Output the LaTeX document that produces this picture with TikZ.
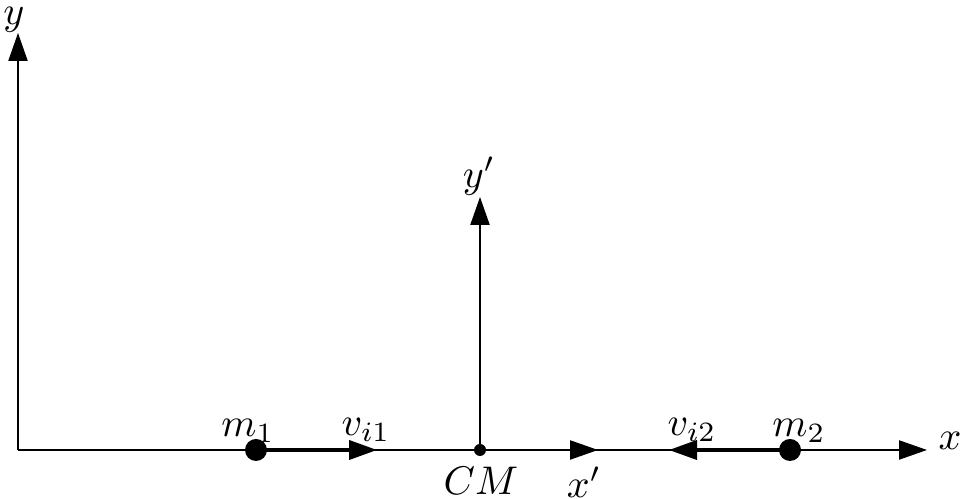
\documentclass[tikz,border=0pt]{standalone}
\usetikzlibrary{arrows.meta}
\begin{document}
\begin{tikzpicture}[x=0.25pt,y=-0.25pt,
 axis/.style={line width=0.4pt,-{Triangle[length=7pt,width=4.8pt]}},
 vel/.style={line width=0.8pt,-{Triangle[length=7pt,width=4.8pt]}},
 mass/.style={circle,fill=black,inner sep=0pt,minimum size=5.5pt},
 cmdot/.style={circle,fill=black,inner sep=0pt,minimum size=3pt},
 lbl/.style={inner sep=0pt}]
\useasboundingbox (0,0) rectangle (965,499);
\coordinate (O) at (18,450);
\coordinate (ytip) at (18,33);
\coordinate (xtip) at (927,450);
\coordinate (yptip) at (480,197);
\coordinate (xptip) at (598,450);
\coordinate (v1tip) at (377,450);
\coordinate (v2tip) at (669,450);
\draw[axis] (O) -- (ytip);
\draw[axis] (O) -- (xtip);
\node[cmdot] (CM) at (480,450) {};
\draw[axis] (CM.center) -- (yptip);
\draw[axis] (CM.center) -- (xptip);
\node[mass] (m1) at (256,450) {};
\node[mass] (m2) at (790,450) {};
\draw[vel] (m1.center) -- (v1tip);
\draw[vel] (m2.center) -- (v2tip);
\node[lbl] (ylab) at (14,20) {$y$};
\node[lbl] (xlab) at (950,441) {$x$};
\node[lbl] (yplab) at (479,176) {$y'$};
\node[lbl] (xplab) at (584,482) {$x'$};
\node[lbl] (cmlab) at (481,481) {$CM$};
\node[lbl] (m1lab) at (248,431) {$m_1$};
\node[lbl] (m2lab) at (799,431) {$m_2$};
\node[lbl] (v1lab) at (366,430) {$v_{i1}$};
\node[lbl] (v2lab) at (692,430) {$v_{i2}$};
\end{tikzpicture}
\end{document}
